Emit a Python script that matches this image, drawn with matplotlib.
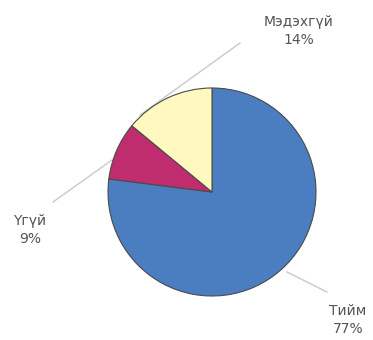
import matplotlib
matplotlib.use("Agg")
import matplotlib.pyplot as plt

# survey answers
labels = ["Тийм", "Үгүй", "Мэдэхгүй"]
shares = [77, 9, 14]
colors = ["#4a7ec0", "#bf2d6e", "#fff8bf"]

W, H = 373, 340
fig = plt.figure(figsize=(W / 100, H / 100), dpi=100)
ax = fig.add_axes([0, 0, 1, 1])
ax.set_xlim(0, W)
ax.set_ylim(0, H)
ax.set_aspect("equal")
ax.axis("off")

# pie centre / radius in pixel units (y measured from top)
cx, cy, r = 212, 192, 104
ax.pie(shares, colors=colors, startangle=90, counterclock=False,
       center=(cx, H - cy), radius=r,
       wedgeprops=dict(edgecolor="#4a4a4a", linewidth=0.8))
ax.set_xlim(0, W)
ax.set_ylim(0, H)

# leader lines
line_kw = dict(color="#c9c9c9", linewidth=1.0, zorder=0)
ax.plot([240, 140], [H - 43, H - 115], **line_kw)
ax.plot([53, 112], [H - 202, H - 160], **line_kw)
ax.plot([287, 327], [H - 272, H - 292], **line_kw)

txt_kw = dict(fontsize=10, color="#555555", family="DejaVu Sans",
              ha="center", va="center", linespacing=1.3)
label_pos = {"Мэдэхгүй": (299, 31), "Үгүй": (30, 230), "Тийм": (348, 320)}
for lab, val in zip(labels, shares):
    x, y = label_pos[lab]
    ax.text(x, H - y, f"{lab}\n{val}%", **txt_kw)

fig.savefig("out.png", dpi=100)
